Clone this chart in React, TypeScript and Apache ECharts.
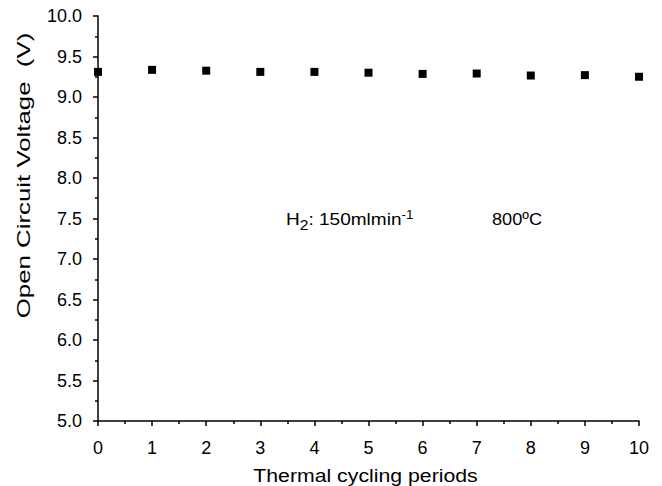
import React, { useEffect, useRef } from "react";
import * as echarts from "echarts";

const cycles = [0, 1, 2, 3, 4, 5, 6, 7, 8, 9, 10];
const voltage = [9.31, 9.335, 9.325, 9.31, 9.31, 9.30, 9.285, 9.29, 9.265, 9.27, 9.25];
const xLabel = "Thermal cycling periods";
const yLabel = "Open Circuit Voltage  (V)";
const gasNote = "{n|H}{sub|2}{n|: 150mlmin}{sup|-1}";
const tempNote = "800ºC";

export default function App() {
  const ref = useRef<HTMLDivElement>(null);
  useEffect(() => {
    if (!ref.current) return;
    const chart = echarts.init(ref.current, undefined, { renderer: "svg" });
    const font = "'Liberation Sans', Arial, sans-serif";
    chart.setOption({
      animation: false,
      backgroundColor: "#ffffff",
      grid: { left: 98, right: 23, top: 16, bottom: 65, containLabel: false },
      xAxis: {
        type: "value",
        min: 0,
        max: 10,
        interval: 1,
        axisLine: { show: true, lineStyle: { color: "#000", width: 1.5 } },
        axisTick: { show: true, inside: false, length: 5, lineStyle: { color: "#000", width: 1.5 } },
        minorTick: { show: true, splitNumber: 2, length: 3, lineStyle: { color: "#000", width: 1.5 } },
        axisLabel: { fontFamily: font, fontSize: 18, color: "#000", margin: 18 },
        splitLine: { show: false },
        minorSplitLine: { show: false },
      },
      yAxis: {
        type: "value",
        min: 5,
        max: 10,
        interval: 0.5,
        axisLine: { show: true, lineStyle: { color: "#000", width: 1.5 } },
        axisTick: { show: true, inside: false, length: 5, lineStyle: { color: "#000", width: 1.5 } },
        minorTick: { show: true, splitNumber: 2, length: 3, lineStyle: { color: "#000", width: 1.5 } },
        axisLabel: {
          fontFamily: font,
          fontSize: 18,
          color: "#000",
          margin: 16,
          formatter: (v: number) => v.toFixed(1),
        },
        splitLine: { show: false },
        minorSplitLine: { show: false },
      },
      series: [
        {
          type: "scatter",
          data: cycles.map((c, i) => [c, voltage[i]]),
          symbol: "rect",
          symbolSize: 8,
          itemStyle: { color: "#000", opacity: 1 },
          clip: true,
        },
      ],
      graphic: [
        {
          type: "text",
          x: 365.5,
          y: 476,
          scaleX: 1.15,
          style: {
            text: xLabel,
            fontFamily: font,
            fontSize: 18.5,
            fill: "#000",
            align: "center",
            verticalAlign: "middle",
          },
        },
        {
          type: "text",
          x: 23,
          y: 175.5,
          rotation: Math.PI / 2,
          scaleX: 1.36,
          style: {
            text: yLabel,
            fontFamily: font,
            fontSize: 19,
            fill: "#000",
            align: "center",
            verticalAlign: "middle",
          },
        },
        {
          type: "text",
          x: 286,
          y: 207,
          scaleX: 1.12,
          style: {
            text: gasNote,
            verticalAlign: "top",
            rich: {
              n: { fontFamily: font, fontSize: 17, fill: "#000", lineHeight: 24 },
              sub: { fontFamily: font, fontSize: 14, fill: "#000", padding: [12, 0, 0, 0], lineHeight: 24 },
              sup: { fontFamily: font, fontSize: 12, fill: "#000", padding: [0, 0, 8, 0], lineHeight: 24 },
            },
          },
        },
        {
          type: "text",
          x: 492,
          y: 207,
          scaleX: 1.07,
          style: {
            text: tempNote,
            fontFamily: font,
            fontSize: 17,
            fill: "#000",
            lineHeight: 24,
            verticalAlign: "top",
          },
        },
      ],
    });
    return () => chart.dispose();
  }, []);
  return <div ref={ref} style={{ width: 662, height: 486, position: "absolute", left: 0, top: 0 }} />;
}
